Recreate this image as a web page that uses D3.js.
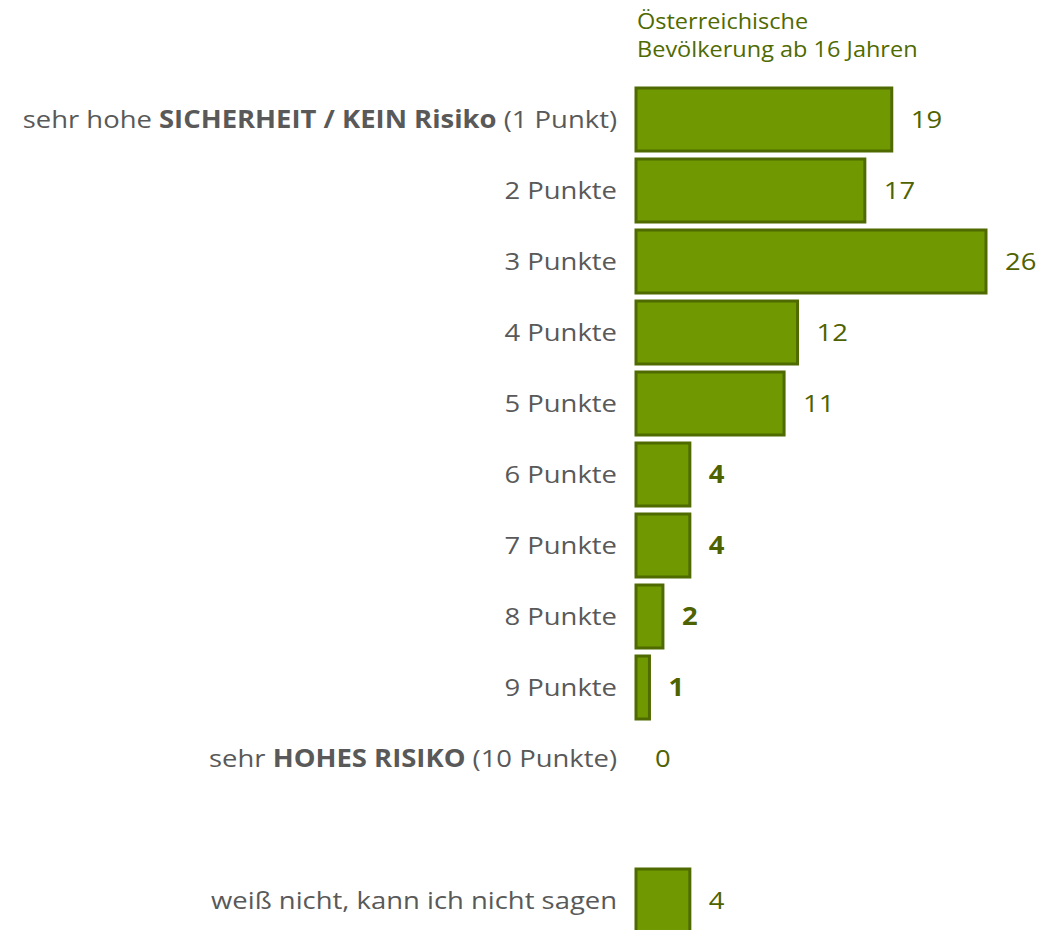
<!DOCTYPE html>
<html>
<head>
<meta charset="utf-8">
<script src="https://cdn.jsdelivr.net/npm/d3@7"></script>
<style>
  html, body { margin: 0; padding: 0; background: #ffffff; }
  svg { display: block; font-family: "Open Sans", "Noto Sans", sans-serif; }
</style>
</head>
<body>
<svg id="chart" width="1043" height="930"></svg>
<script>
// Risk rating scale, share of respondents in percent
const categories = [
  "sehr hohe SICHERHEIT / KEIN Risiko (1 Punkt)",
  "2 Punkte",
  "3 Punkte",
  "4 Punkte",
  "5 Punkte",
  "6 Punkte",
  "7 Punkte",
  "8 Punkte",
  "9 Punkte",
  "sehr HOHES RISIKO (10 Punkte)",
  "weiß nicht, kann ich nicht sagen"
];
const values = [19, 17, 26, 12, 11, 4, 4, 2, 1, 0, 4];
// phrases printed in bold inside the category labels
const emphasis = ["SICHERHEIT / KEIN Risiko", "HOHES RISIKO"];
// value labels printed in bold
const boldValues = [false, false, false, false, false, true, true, true, true, false, false];
const seriesTitle = ["Österreichische", "Bevölkerung ab 16 Jahren"];

const svg = d3.select("#chart");
const GAP = "__gap";
// a blank row separates "weiß nicht" from the scale
const slots = [...categories.slice(0, 10), GAP, categories[10]];

// text is set slightly wide
const STRETCH = 1.12;
const FS = 24.5;

const x = d3.scaleLinear().domain([0, 26]).range([636, 986]);
const y = d3.scaleBand()
  .domain(slots)
  .range([84, 84 + slots.length * 71])
  .paddingInner(8 / 71)
  .paddingOuter(4 / 71);

const rows = categories.map((c, i) => ({ cat: c, value: values[i], bold: boldValues[i] }));
const placeAt = (px, py) => `translate(${px},${py}) scale(${STRETCH},1)`;

// series title
svg.append("g")
  .selectAll("text")
  .data(seriesTitle)
  .join("text")
  .attr("transform", (d, i) => placeAt(637, 29 + i * 28))
  .attr("fill", "#4f6a00")
  .attr("font-size", 21)
  .text(d => d);

// bars
svg.append("g")
  .selectAll("rect")
  .data(rows.filter(d => d.value > 0))
  .join("rect")
  .attr("x", x(0))
  .attr("y", d => y(d.cat))
  .attr("width", d => x(d.value) - x(0))
  .attr("height", y.bandwidth())
  .attr("fill", "#709800")
  .attr("stroke", "#4f6a00")
  .attr("stroke-width", 3);

// value labels
svg.append("g")
  .selectAll("text")
  .data(rows)
  .join("text")
  .attr("transform", d => placeAt(x(d.value) + 19, y(d.cat) + y.bandwidth() / 2))
  .attr("dy", "0.36em")
  .attr("font-size", FS)
  .attr("font-weight", d => d.bold ? "bold" : "normal")
  .attr("fill", "#4f6200")
  .text(d => d.value);

// category labels with emphasized phrases
function parts(label) {
  const e = emphasis.find(p => label.includes(p));
  if (!e) return [{ t: label, b: false }];
  const i = label.indexOf(e);
  return [
    { t: label.slice(0, i), b: false },
    { t: e, b: true },
    { t: label.slice(i + e.length), b: false }
  ].filter(p => p.t.length);
}

svg.append("g")
  .selectAll("text")
  .data(rows)
  .join("text")
  .attr("transform", d => placeAt(617, y(d.cat) + y.bandwidth() / 2))
  .attr("dy", "0.36em")
  .attr("text-anchor", "end")
  .attr("font-size", FS)
  .attr("fill", "#595959")
  .style("white-space", "pre")
  .attr("xml:space", "preserve")
  .selectAll("tspan")
  .data(d => parts(d.cat))
  .join("tspan")
  .attr("font-weight", p => p.b ? "bold" : "normal")
  .text(p => p.t);
</script>
</body>
</html>
